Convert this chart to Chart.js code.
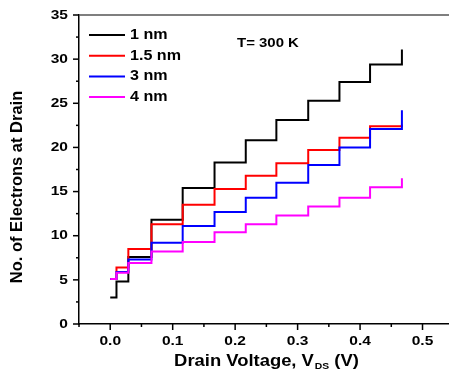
<!DOCTYPE html>
<html>
<head>
<meta charset="utf-8">
<script src="https://cdn.jsdelivr.net/npm/chart.js@4.4.0/dist/chart.umd.min.js"></script>
<style>
  html, body { margin: 0; padding: 0; overflow: hidden; background: #fff; width: 449px; height: 383px; }
</style>
</head>
<body>
<canvas id="chart" width="460" height="383"></canvas>
<script>
// --- données ---
const drainV = [0, 0.01, 0.029, 0.066, 0.116, 0.167, 0.217, 0.266, 0.317, 0.367, 0.416, 0.467];
const el1nm  = [3.0, 4.8, 7.6, 11.8, 15.4, 18.3, 20.8, 23.1, 25.3, 27.4, 29.4, 31.1];
const el15nm = [5.1, 6.4, 8.5, 11.3, 13.5, 15.3, 16.8, 18.2, 19.7, 21.1, 22.4, 22.6];
const el3nm  = [5.1, 5.9, 7.3, 9.2, 11.1, 12.7, 14.3, 16.0, 18.0, 20.0, 22.1, 24.2];
const el4nm  = [5.1, 5.8, 6.9, 8.2, 9.3, 10.4, 11.3, 12.3, 13.3, 14.3, 15.5, 16.5];
const seriesNames  = ['1 nm', '1.5 nm', '3 nm', '4 nm'];
const seriesColors = ['#000000', '#ff0000', '#0000ff', '#ff00ff'];
const xTickLabels = ['0.0', '0.1', '0.2', '0.3', '0.4', '0.5'];
const yTickLabels = ['0', '5', '10', '15', '20', '25', '30', '35'];

const FONT = '"Liberation Sans", Arial, sans-serif';
const SX = 1.15; // le texte de l'original est un peu étiré en largeur

function toPoints(ys) {
    return drainV.map((v, i) => ({ x: v, y: ys[i] }));
}

// texte étiré horizontalement
function stretchText(ctx, s, x, y, size, align, baseline) {
    ctx.save();
    ctx.font = 'bold ' + size + 'px ' + FONT;
    ctx.textAlign = align || 'left';
    ctx.textBaseline = baseline || 'middle';
    ctx.translate(x, y);
    ctx.scale(SX, 1);
    ctx.fillText(s, 0, 0);
    ctx.restore();
}

const decorPlugin = {
    id: 'decor',
    afterDraw(chart) {
        const ctx = chart.ctx;
        const area = chart.chartArea;
        const xs = chart.scales.x;
        const ys = chart.scales.y;
        ctx.save();
        ctx.fillStyle = '#000';

        // cadre du haut
        ctx.strokeStyle = '#555';
        ctx.lineWidth = 1.5;
        ctx.beginPath();
        ctx.moveTo(area.left, area.top);
        ctx.lineTo(chart.width, area.top);
        ctx.stroke();

        // graduations
        ctx.strokeStyle = '#000';
        ctx.lineWidth = 1.5;
        for (let k = -1; k <= 11; k++) {
            const px = xs.getPixelForValue(k * 0.05);
            const len = (k % 2 === 0) ? 6 : 3;
            ctx.beginPath();
            ctx.moveTo(px, area.bottom);
            ctx.lineTo(px, area.bottom + len);
            ctx.stroke();
        }
        for (let k = 0; k <= 14; k++) {
            const py = ys.getPixelForValue(k * 2.5);
            const len = (k % 2 === 0) ? 6 : 3;
            ctx.beginPath();
            ctx.moveTo(area.left, py);
            ctx.lineTo(area.left - len, py);
            ctx.stroke();
        }

        // étiquettes des axes
        xTickLabels.forEach(l => {
            stretchText(ctx, l, xs.getPixelForValue(parseFloat(l)), area.bottom + 17, 13.5, 'center');
        });
        yTickLabels.forEach(l => {
            stretchText(ctx, l, area.left - 11, ys.getPixelForValue(parseFloat(l)), 13.5, 'right');
        });

        // titre axe Y
        ctx.save();
        ctx.translate(17, 187);
        ctx.rotate(-Math.PI / 2);
        ctx.font = 'bold 16.5px ' + FONT;
        ctx.textAlign = 'center';
        ctx.textBaseline = 'middle';
        ctx.fillText('No. of Electrons at Drain', 0, 0);
        ctx.restore();

        // titre axe X avec indice DS
        const partA = 'Drain Voltage, V';
        const partB = 'DS';
        const partC = ' (V)';
        ctx.font = 'bold 16px ' + FONT;
        const wA = ctx.measureText(partA).width * SX;
        const wC = ctx.measureText(partC).width * SX;
        ctx.font = 'bold 9px ' + FONT;
        const wB = ctx.measureText(partB).width * SX;
        let tx = 266 - (wA + wB + wC) / 2;
        const ty = 362;
        stretchText(ctx, partA, tx, ty, 16, 'left');
        stretchText(ctx, partB, tx + wA + 1, ty + 5, 9, 'left');
        stretchText(ctx, partC, tx + wA + wB + 1, ty, 16, 'left');

        // légende
        seriesNames.forEach((name, i) => {
            const ly = 35 + i * 20.7;
            ctx.strokeStyle = seriesColors[i];
            ctx.lineWidth = 2;
            ctx.beginPath();
            ctx.moveTo(89, ly);
            ctx.lineTo(125, ly);
            ctx.stroke();
            ctx.fillStyle = '#000';
            stretchText(ctx, name, 130, ly, 14, 'left');
        });

        // température
        stretchText(ctx, 'T= 300 K', 237, 43, 13, 'left');
        ctx.restore();
    }
};

const canvas = document.getElementById('chart');
new Chart(canvas.getContext('2d'), {
    type: 'line',
    data: {
        datasets: [
            { label: seriesNames[0], data: toPoints(el1nm),  borderColor: seriesColors[0], order: 3 },
            { label: seriesNames[1], data: toPoints(el15nm), borderColor: seriesColors[1], order: 2 },
            { label: seriesNames[2], data: toPoints(el3nm),  borderColor: seriesColors[2], order: 1 },
            { label: seriesNames[3], data: toPoints(el4nm),  borderColor: seriesColors[3], order: 0 }
        ]
    },
    options: {
        responsive: false,
        animation: false,
        datasets: { line: { stepped: true, borderWidth: 2, pointRadius: 0, fill: false } },
        layout: { padding: { left: 0, right: 6.25, top: 15, bottom: 0 } },
        plugins: { legend: { display: false }, tooltip: { enabled: false } },
        scales: {
            x: {
                type: 'linear', min: -0.05, max: 0.55,
                ticks: { display: false },
                grid: { display: false },
                border: { color: '#000', width: 1.5 },
                afterFit(s) { s.height = 59; }
            },
            y: {
                min: 0, max: 35,
                ticks: { display: false },
                grid: { display: false },
                border: { color: '#000', width: 1.5 },
                afterFit(s) { s.width = 79; }
            }
        }
    },
    plugins: [decorPlugin]
});
</script>
</body>
</html>
